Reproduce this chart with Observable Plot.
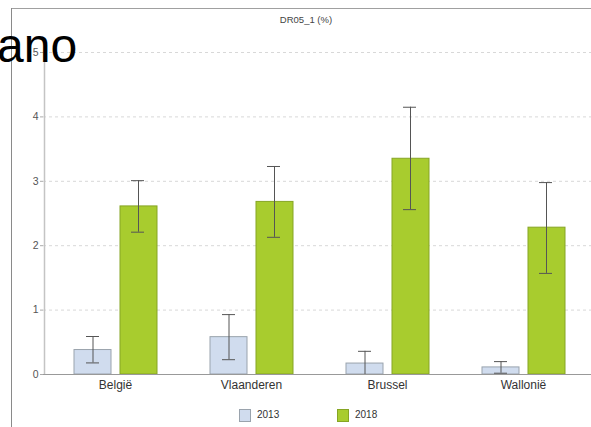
<!DOCTYPE html>
<html>
<head>
<meta charset="utf-8">
<script src="https://cdn.jsdelivr.net/npm/d3@7"></script>
<script src="https://cdn.jsdelivr.net/npm/@observablehq/plot@0.6"></script>
<style>
  body { margin: 0; background: #fff; font-family: "Liberation Sans", Arial, sans-serif; }
  #wrap { position: relative; width: 591px; height: 427px; overflow: hidden; background: #fff; }
  #chart { position: absolute; left: 0; top: 0; }
  .frameTop { position: absolute; left: 12px; top: 8px; width: 579px; height: 0; border-top: 1.5px solid #a0a0a0; }
  .frameLeft { position: absolute; left: 11px; top: 8px; width: 0; height: 419px; border-left: 1.5px solid #8a8a8a; }
  #title { position: absolute; top: 14px; left: 256px; width: 100px; text-align: center; font-size: 9.5px; color: #444; }
  #legend { position: absolute; top: 408px; left: 0; width: 591px; height: 16px; font-size: 10px; color: #333; }
  .sw { position: absolute; width: 12px; height: 13px; box-sizing: border-box; border: 1px solid #999; }
  .lt { position: absolute; top: 1px; }
  #big { position: absolute; left: -3px; top: 22px; font-size: 48px; color: #000; font-family: "Liberation Sans", Arial, sans-serif; line-height: 1; }
</style>
</head>
<body>
<div id="wrap">
  <div id="chart"></div>
  <div class="frameTop"></div>
  <div class="frameLeft"></div>
  <div id="title">DR05_1 (%)</div>
  <div id="legend"></div>
  <div id="big">ano</div>
</div>
<script>
const regions = ["België", "Vlaanderen", "Brussel", "Wallonië"];
const years = ["2013", "2018"];
const yearColors = ["#d0dcee", "#a8cc2e"];
const yearStrokes = ["#9aa3ad", "#86a524"];
const v2013 = [0.38, 0.58, 0.17, 0.11];
const lo2013 = [0.18, 0.23, 0.00, 0.02];
const hi2013 = [0.59, 0.93, 0.36, 0.20];
const v2018 = [2.61, 2.68, 3.35, 2.28];
const lo2018 = [2.21, 2.13, 2.56, 1.57];
const hi2018 = [3.01, 3.23, 4.15, 2.98];
const yTicks = [0, 1, 2, 3, 4, 5];

const d13 = regions.map((r, i) => ({region: r, year: years[0], value: v2013[i], lo: lo2013[i], hi: hi2013[i]}));
const d18 = regions.map((r, i) => ({region: r, year: years[1], value: v2018[i], lo: lo2018[i], hi: hi2018[i]}));

const errColor = "#555";

const plot = Plot.plot({
  width: 591,
  height: 400,
  marginTop: 52,
  marginBottom: 26,
  marginLeft: 43,
  marginRight: -4,
  style: {fontFamily: "Liberation Sans, Arial, sans-serif", background: "transparent"},
  x: {domain: regions, paddingInner: 0, paddingOuter: 0.02, label: null},
  y: {domain: [0, 5], label: null},
  color: {domain: years, range: yearColors},
  marks: [
    Plot.ruleY(yTicks.filter(t => t > 0), {stroke: "#d8d8d8", strokeDasharray: "3,3", strokeWidth: 1}),
    Plot.barY(d13, {x: "region", y: "value", fill: "year", stroke: yearStrokes[0], strokeWidth: 1, insetLeft: 27, insetRight: 72}),
    Plot.barY(d18, {x: "region", y: "value", fill: "year", stroke: yearStrokes[1], strokeWidth: 1, insetLeft: 73, insetRight: 26}),
    Plot.ruleX(d13, {x: "region", y1: "lo", y2: "hi", dx: -22.5, stroke: errColor, strokeWidth: 1}),
    Plot.ruleX(d18, {x: "region", y1: "lo", y2: "hi", dx: 23, stroke: errColor, strokeWidth: 1}),
    Plot.tickY(d13, {x: "region", y: "lo", insetLeft: 39, insetRight: 84, stroke: errColor}),
    Plot.tickY(d13, {x: "region", y: "hi", insetLeft: 39, insetRight: 84, stroke: errColor}),
    Plot.tickY(d18, {x: "region", y: "lo", insetLeft: 84, insetRight: 39, stroke: errColor}),
    Plot.tickY(d18, {x: "region", y: "hi", insetLeft: 84, insetRight: 39, stroke: errColor}),
    Plot.ruleY([0], {stroke: "#999", strokeWidth: 1.2}),
    Plot.ruleX([regions[0]], {x: d => d, y1: 0, y2: 5, dx: -71, stroke: "#c4c4c4", strokeWidth: 1.5}),
    Plot.axisY({ticks: yTicks, tickFormat: "d", tickSize: 3, tickPadding: 2, fontSize: 10.5, color: "#555", stroke: "#aaa"}),
    Plot.axisX({tickSize: 0, tickPadding: 6, fontSize: 12, color: "#333"})
  ]
});
document.getElementById("chart").appendChild(plot);

// legend
const legend = document.getElementById("legend");
const lx = [239, 337];
years.forEach((y, i) => {
  const s = document.createElement("div");
  s.className = "sw";
  s.style.left = lx[i] + "px";
  s.style.top = "1px";
  s.style.background = yearColors[i];
  s.style.borderColor = yearStrokes[i];
  legend.appendChild(s);
  const t = document.createElement("div");
  t.className = "lt";
  t.style.left = (lx[i] + 18) + "px";
  t.textContent = y;
  legend.appendChild(t);
});
</script>
</body>
</html>
